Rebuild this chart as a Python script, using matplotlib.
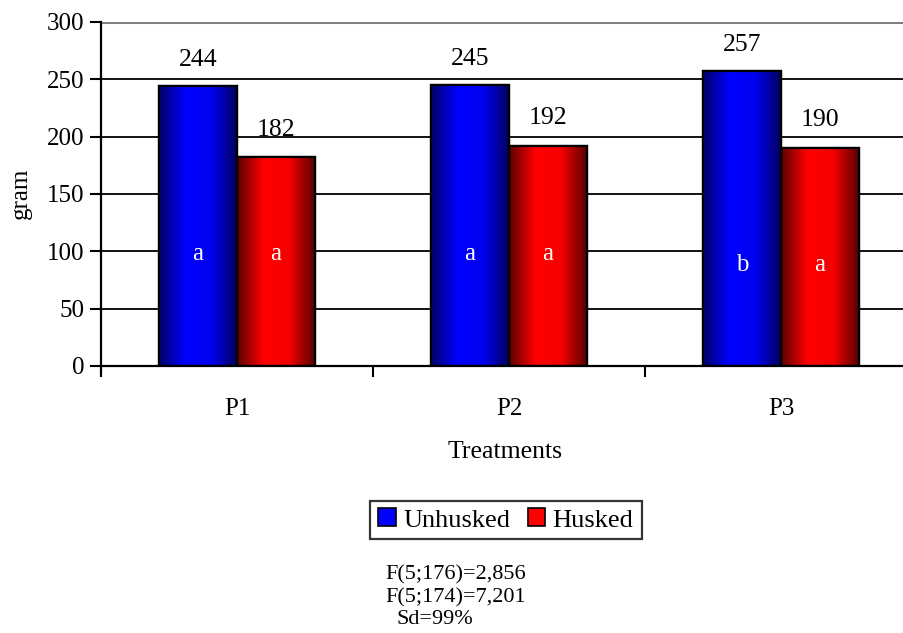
import matplotlib.pyplot as plt
import numpy as np
from matplotlib.colors import LinearSegmentedColormap
from matplotlib.patches import Patch

treatments = ['P1', 'P2', 'P3']
unhusked = [244, 245, 257]
husked = [182, 192, 190]
letters_unhusked = ['a', 'a', 'b']
letters_husked = ['a', 'a', 'a']
letter_level = [98, 98, 88]
yticks = [0, 50, 100, 150, 200, 250, 300]

plt.rcParams['font.family'] = ['Liberation Serif', 'DejaVu Serif']

fig = plt.figure(figsize=(9.04, 6.33), dpi=100)
ax = fig.add_axes([101 / 904, 1 - 366 / 633, 1 - 101 / 904, 344 / 633])

x = np.arange(1, len(treatments) + 1)
w = 0.287
blue_cmap = LinearSegmentedColormap.from_list('b', ['#000068', '#0000ff', '#0000f0', '#000058'])
red_cmap = LinearSegmentedColormap.from_list('r', ['#5a0000', '#ff0000', '#f50000', '#500000'])

# gridlines first, under bars
for t in yticks[1:-1]:
    ax.axhline(t, color='black', lw=1.3, zorder=0)
ax.axhline(300, color='#808080', lw=2.2, zorder=0)

bars_u = ax.bar(x - w / 2, unhusked, w, color='#0000ff', edgecolor='black', lw=1.6, zorder=2)
bars_h = ax.bar(x + w / 2, husked, w, color='#ff0000', edgecolor='black', lw=1.6, zorder=2)

grad = np.linspace(0, 1, 256).reshape(1, -1)
for bars, cmap in [(bars_u, blue_cmap), (bars_h, red_cmap)]:
    for b in bars:
        x0, y0 = b.get_x(), b.get_y()
        im = ax.imshow(grad, cmap=cmap, aspect='auto', zorder=2.5,
                       extent=[x0, x0 + b.get_width(), y0, y0 + b.get_height()])
        im.set_clip_path(b)
        edge = plt.Rectangle((x0, y0), b.get_width(), b.get_height(), fill=False,
                             edgecolor='black', lw=1.6, zorder=3)
        ax.add_patch(edge)

for xi, v in zip(x - w / 2, unhusked):
    ax.annotate(str(v), (xi, v), xytext=(0, 19), textcoords='offset points',
                ha='center', va='center', fontsize=18.5)
for xi, v in zip(x + w / 2, husked):
    ax.annotate(str(v), (xi, v), xytext=(0, 20), textcoords='offset points',
                ha='center', va='center', fontsize=18.5)

for xi, l, yl in zip(x - w / 2, letters_unhusked, letter_level):
    ax.text(xi, yl, l, color='white', ha='center', va='center', fontsize=18, zorder=4)
for xi, l, yl in zip(x + w / 2, letters_husked, letter_level):
    ax.text(xi, yl, l, color='white', ha='center', va='center', fontsize=18, zorder=4)

ax.set_yticks(yticks)
ax.tick_params(axis='y', length=8, width=1.5, labelsize=18, pad=4, direction='out')
ax.set_xticks(x)
ax.set_xticklabels(treatments)
ax.set_xticks([0.5, 1.5, 2.5], minor=True)
ax.tick_params(axis='x', which='major', length=0, labelsize=18, pad=23)
ax.tick_params(axis='x', which='minor', length=8, width=1.5, direction='out')
# limits after ticks, set_ticks would widen them otherwise
ax.set_xlim(0.5, 0.5 + 803 / 272)
ax.set_ylim(0, 300)
for s in ['top', 'right']:
    ax.spines[s].set_visible(False)
ax.spines['left'].set_linewidth(1.6)
ax.spines['bottom'].set_linewidth(1.6)
ax.spines['left'].set_bounds(-6, 300)

fig.text(505 / 904, 1 - 452 / 633, 'Treatments', ha='center', va='center', fontsize=18.5)
fig.text(21 / 904, 1 - 193 / 633, 'gram', ha='center', va='center', rotation=90, fontsize=18)

handles = [Patch(facecolor='#0000ff', edgecolor='black', lw=1.2),
           Patch(facecolor='#ff0000', edgecolor='black', lw=1.2)]
leg = fig.legend(handles, ['Unhusked', 'Husked'], loc='center',
                 bbox_to_anchor=(506 / 904, 1 - 520 / 633), ncol=2, fontsize=19,
                 frameon=True, fancybox=False, edgecolor='black', handlelength=0.65,
                 handleheight=0.65, handletextpad=0.3, columnspacing=0.65,
                 borderpad=0.3, borderaxespad=0)
leg.get_frame().set_linewidth(1.6)

fig.text(385 / 904, 1 - 575 / 633, 'F(5;176)=2,856', ha='left', va='center', fontsize=16)
fig.text(385 / 904, 1 - 598 / 633, 'F(5;174)=7,201', ha='left', va='center', fontsize=16)
fig.text(397 / 904, 1 - 620 / 633, 'Sd=99%', ha='left', va='center', fontsize=16)

fig.savefig('out.png', dpi=100)
